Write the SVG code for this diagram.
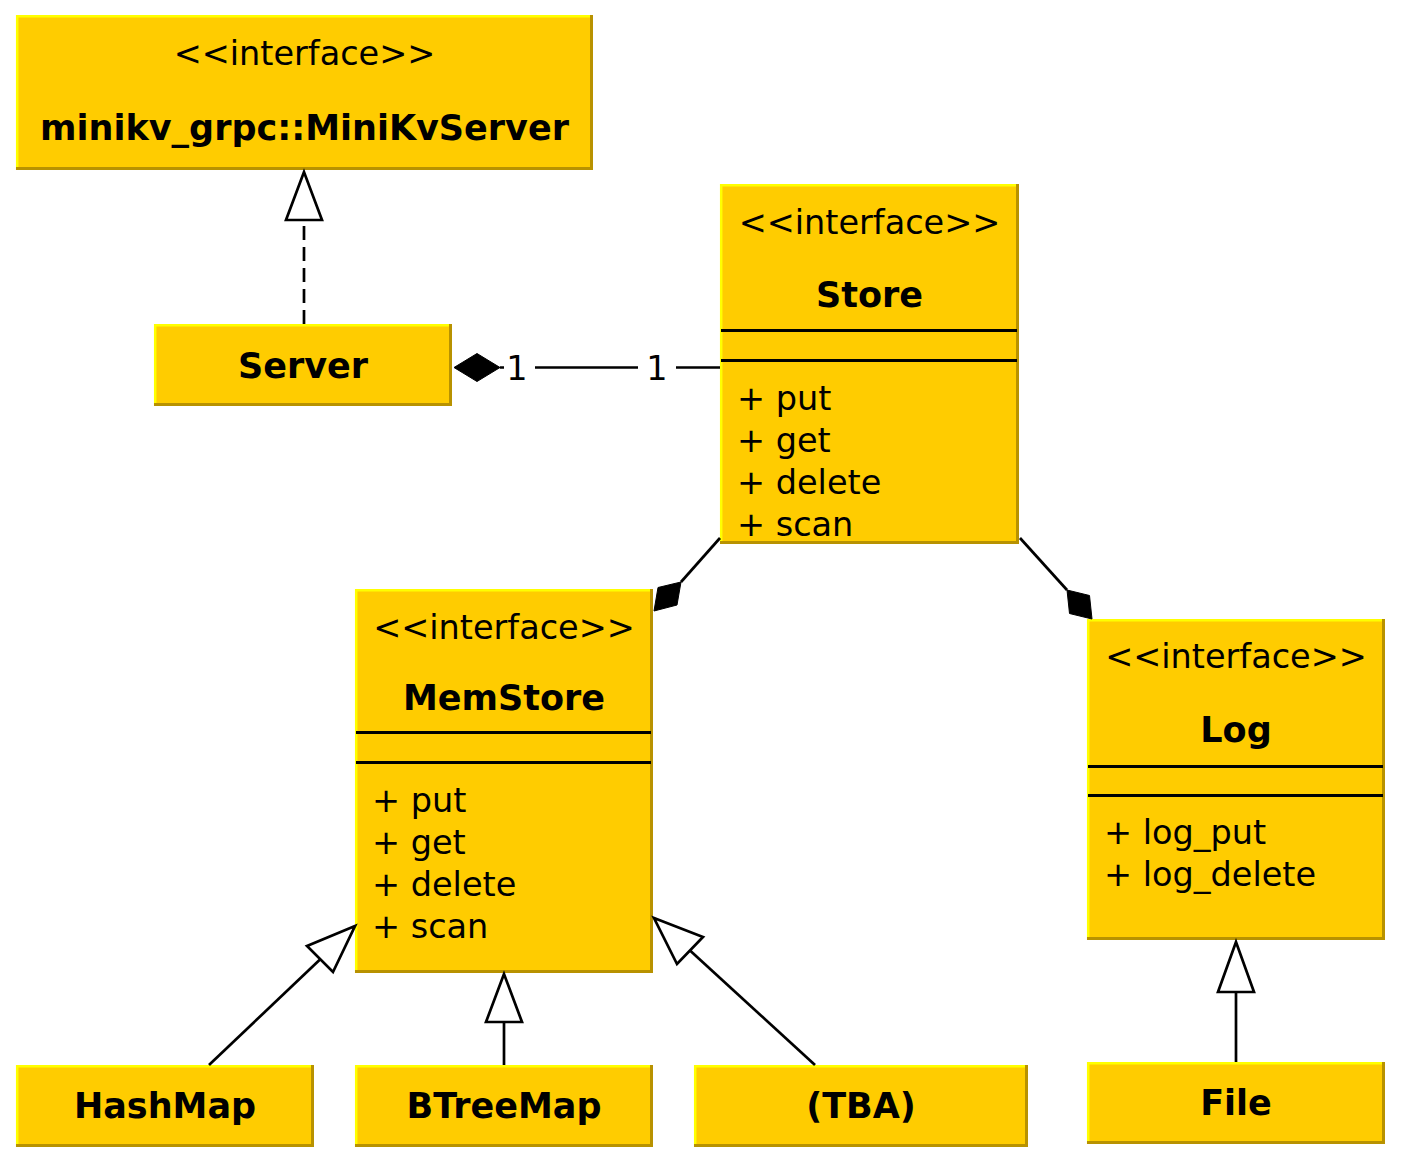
<svg xmlns="http://www.w3.org/2000/svg" width="1401" height="1167" viewBox="0 0 1401 1167">
<style>
.fill{fill:#ffcc00}
.hi{stroke:#ffff00;stroke-width:2.5;fill:none}
.lo{stroke:#b89200;stroke-width:3;fill:none}
.sep{stroke:#000;stroke-width:3}
.t{font-family:"DejaVu Sans",sans-serif;font-size:33.5px;fill:#000}
.b{font-family:"DejaVu Sans",sans-serif;font-size:35px;font-weight:bold;fill:#000}
.c{text-anchor:middle}
.ln{stroke:#000;stroke-width:2.7;fill:none}
.dash{stroke-dasharray:14 7}
.hollow{fill:#fff;stroke:#000;stroke-width:2.7;stroke-linejoin:miter}
.solid{fill:#000;stroke:#000;stroke-width:1}
</style>
<rect width="1401" height="1167" fill="#fff"/>
<g id="node-minikvserver">
<rect class="fill" x="16" y="15" width="577" height="155"/>
<path class="hi" d="M16,16.2H593M17.2,15V170"/>
<path class="lo" d="M16,168.5H593M591.5,15V170"/>
<text class="t c" x="304.5" y="65">&lt;&lt;interface&gt;&gt;</text>
<text class="b c" x="304.5" y="140">minikv_grpc::MiniKvServer</text>
</g>
<g id="node-server">
<rect class="fill" x="154" y="324" width="298" height="82"/>
<path class="hi" d="M154,325.2H452M155.2,324V406"/>
<path class="lo" d="M154,404.5H452M450.5,324V406"/>
<text class="b c" x="303" y="378">Server</text>
</g>
<g id="node-store">
<rect class="fill" x="720" y="184" width="299" height="360"/>
<path class="hi" d="M720,185.2H1019M721.2,184V544"/>
<path class="lo" d="M720,542.5H1019M1017.5,184V544"/>
<text class="t c" x="869.5" y="234">&lt;&lt;interface&gt;&gt;</text>
<text class="b c" x="869.5" y="307">Store</text>
<path class="sep" d="M721,330.5H1017M721,360.5H1017"/>
<text class="t" x="737" y="410">+ put</text>
<text class="t" x="737" y="452">+ get</text>
<text class="t" x="737" y="494">+ delete</text>
<text class="t" x="737" y="536">+ scan</text>
</g>
<g id="node-memstore">
<rect class="fill" x="355" y="589" width="298" height="384"/>
<path class="hi" d="M355,590.2H653M356.2,589V973"/>
<path class="lo" d="M355,971.5H653M651.5,589V973"/>
<text class="t c" x="504" y="639">&lt;&lt;interface&gt;&gt;</text>
<text class="b c" x="504" y="710">MemStore</text>
<path class="sep" d="M356,732.5H651M356,762.5H651"/>
<text class="t" x="372" y="812">+ put</text>
<text class="t" x="372" y="854">+ get</text>
<text class="t" x="372" y="896">+ delete</text>
<text class="t" x="372" y="938">+ scan</text>
</g>
<g id="node-log">
<rect class="fill" x="1087" y="619" width="298" height="321"/>
<path class="hi" d="M1087,620.2H1385M1088.2,619V940"/>
<path class="lo" d="M1087,938.5H1385M1383.5,619V940"/>
<text class="t c" x="1236" y="668">&lt;&lt;interface&gt;&gt;</text>
<text class="b c" x="1236" y="742">Log</text>
<path class="sep" d="M1088,766.5H1383M1088,795.5H1383"/>
<text class="t" x="1104" y="844">+ log_put</text>
<text class="t" x="1104" y="886">+ log_delete</text>
</g>
<g id="node-hashmap">
<rect class="fill" x="16" y="1065" width="298" height="82"/>
<path class="hi" d="M16,1066.2H314M17.2,1065V1147"/>
<path class="lo" d="M16,1145.5H314M312.5,1065V1147"/>
<text class="b c" x="165" y="1118">HashMap</text>
</g>
<g id="node-btreemap">
<rect class="fill" x="355" y="1065" width="298" height="82"/>
<path class="hi" d="M355,1066.2H653M356.2,1065V1147"/>
<path class="lo" d="M355,1145.5H653M651.5,1065V1147"/>
<text class="b c" x="504" y="1118">BTreeMap</text>
</g>
<g id="node-tba">
<rect class="fill" x="694" y="1065" width="334" height="82"/>
<path class="hi" d="M694,1066.2H1028M695.2,1065V1147"/>
<path class="lo" d="M694,1145.5H1028M1026.5,1065V1147"/>
<text class="b c" x="861" y="1118">(TBA)</text>
</g>
<g id="node-file">
<rect class="fill" x="1087" y="1062" width="298" height="82"/>
<path class="hi" d="M1087,1063.2H1385M1088.2,1062V1144"/>
<path class="lo" d="M1087,1142.5H1385M1383.5,1062V1144"/>
<text class="b c" x="1236" y="1115">File</text>
</g>
<g id="connectors">
<path class="ln dash" d="M304,324V221"/>
<polygon class="hollow" points="304,172 286,220 322,220"/>
<polygon class="solid" points="454,367.5 477,353.5 500,367.5 477,381.5"/>
<path class="ln" d="M500,367.5H504M535,367.5H638M676,367.5H720"/>
<text class="t c" x="517" y="380">1</text>
<text class="t c" x="657" y="380">1</text>
<path class="ln" d="M720,538L681,582"/>
<polygon class="solid" points="654,611 658,587.5 681,582 677,605"/>
<path class="ln" d="M1020,538L1067,590"/>
<polygon class="solid" points="1092,619 1069.5,613.5 1067,590 1089.5,595.5"/>
<path class="ln" d="M209,1065L320,959.5"/>
<polygon class="hollow" points="355,926 307,946 333,972"/>
<path class="ln" d="M504,1065V1022"/>
<polygon class="hollow" points="504,974 486,1022 522,1022"/>
<path class="ln" d="M815,1065L690,950.5"/>
<polygon class="hollow" points="654,918 703,937 677,964"/>
<path class="ln" d="M1236,1062V992"/>
<polygon class="hollow" points="1236,942 1218,992 1254,992"/>
</g>
</svg>
